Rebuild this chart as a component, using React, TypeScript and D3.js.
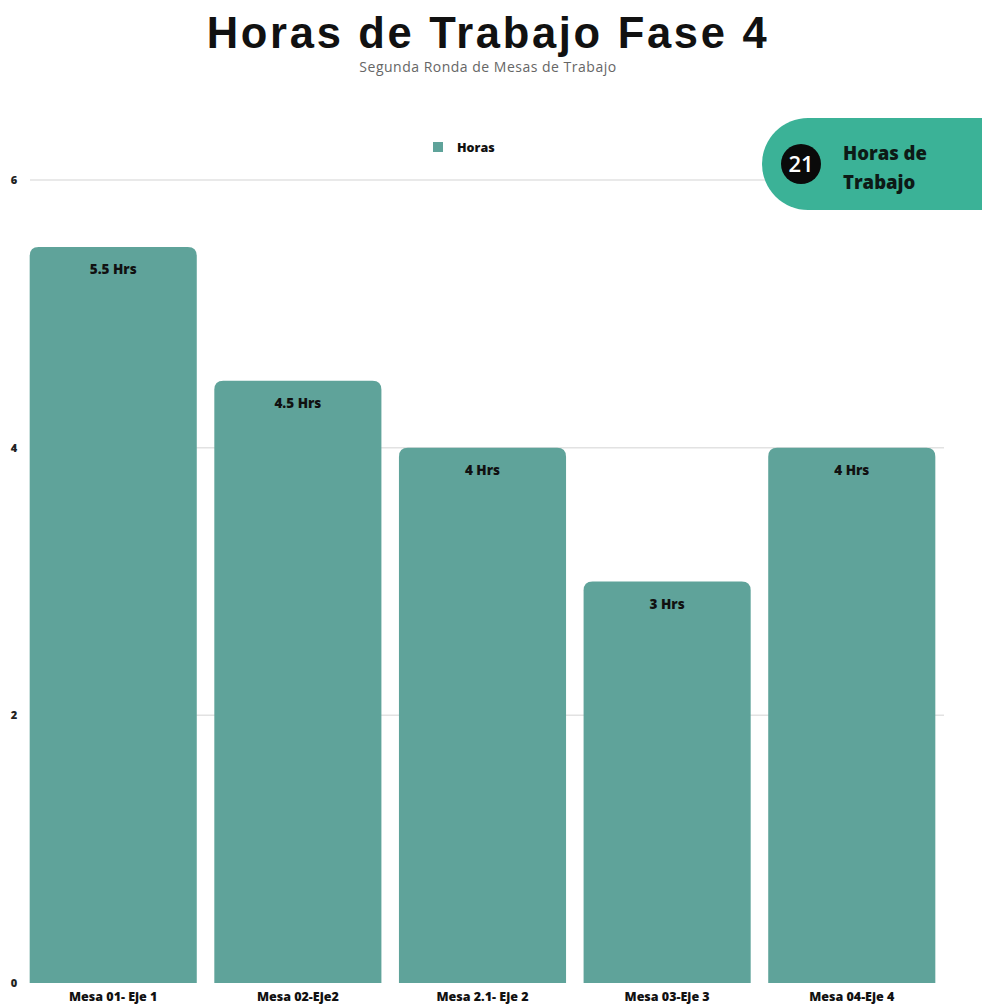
import React from "react";
import * as d3 from "d3";

const categories = ["Mesa 01- Eje 1", "Mesa 02-Eje2", "Mesa 2.1- Eje 2", "Mesa 03-Eje 3", "Mesa 04-Eje 4"];
const hours = [5.5, 4.5, 4, 3, 4];
const valueLabels = ["5.5 Hrs", "4.5 Hrs", "4 Hrs", "3 Hrs", "4 Hrs"];
const yTicks = [0, 2, 4, 6];
const totalHours = 21;

const W = 982;
const H = 1004;
const BAR = "#5fa39a";
const BADGE = "#3bb297";

function topRoundedRect(x: number, y: number, w: number, h: number, r: number) {
  const rr = Math.min(r, h, w / 2);
  return `M${x},${y + h}V${y + rr}Q${x},${y} ${x + rr},${y}H${x + w - rr}Q${x + w},${y} ${x + w},${y + rr}V${y + h}Z`;
}

export default function App() {
  const x = d3.scaleBand<string>().domain(categories).range([21, 944]).paddingInner(0.095).paddingOuter(0.047);
  const y = d3.scaleLinear().domain([0, 6]).range([983, 180]);
  const font = "'Open Sans', sans-serif";
  return (
    <svg width={W} height={H} style={{ position: "absolute", left: 0, top: 0, background: "#fff" }}>
      <text x={488} y={48} textAnchor="middle" fontFamily="'Liberation Sans', Arial, sans-serif" fontWeight={700} fontSize={43.5} letterSpacing={2.7} fill="#111">
        Horas de Trabajo Fase 4
      </text>
      <text x={488} y={72} textAnchor="middle" fontFamily={font} fontSize={14} letterSpacing={0.5} fill="#666">
        Segunda Ronda de Mesas de Trabajo
      </text>
      {yTicks.map((t) => (
        <g key={t}>
          {t > 0 && <line x1={30} x2={944} y1={y(t)} y2={y(t)} stroke="#e2e2e2" strokeWidth={1.5} />}
          <text x={14} y={y(t) + 4} textAnchor="middle" fontFamily={font} fontWeight={800} fontSize={11} fill="#222">
            {t}
          </text>
        </g>
      ))}
      {categories.map((c, i) => {
        const bx = x(c)!;
        const bw = x.bandwidth();
        return (
          <g key={c}>
            <path d={topRoundedRect(bx, y(hours[i]), bw, y(0) - y(hours[i]), 9)} fill={BAR} />
            <text x={bx + bw / 2} y={y(hours[i]) + 27} textAnchor="middle" fontFamily={font} fontWeight={800} fontSize={13.5} fill="#111">
              {valueLabels[i]}
            </text>
            <text x={bx + bw / 2} y={1001} textAnchor="middle" fontFamily={font} fontWeight={800} fontSize={12.5} fill="#111">
              {c}
            </text>
          </g>
        );
      })}
      <rect x={433} y={142} width={10} height={10} fill={BAR} />
      <text x={457} y={151.5} fontFamily={font} fontWeight={800} fontSize={12.5} fill="#111">
        Horas
      </text>
      <path d={`M982,118H808A46,46 0 0 0 808,210H982Z`} fill={BADGE} />
      <circle cx={801} cy={164} r={20} fill="#0a0a0a" />
      <text x={801} y={172} textAnchor="middle" fontFamily={font} fontWeight={600} fontSize={22} fill="#fff">
        {totalHours}
      </text>
      <text x={843} y={160} fontFamily={font} fontWeight={800} fontSize={18.5} fill="#0d1a16">
        Horas de
      </text>
      <text x={843} y={189} fontFamily={font} fontWeight={800} fontSize={18.5} fill="#0d1a16">
        Trabajo
      </text>
    </svg>
  );
}
